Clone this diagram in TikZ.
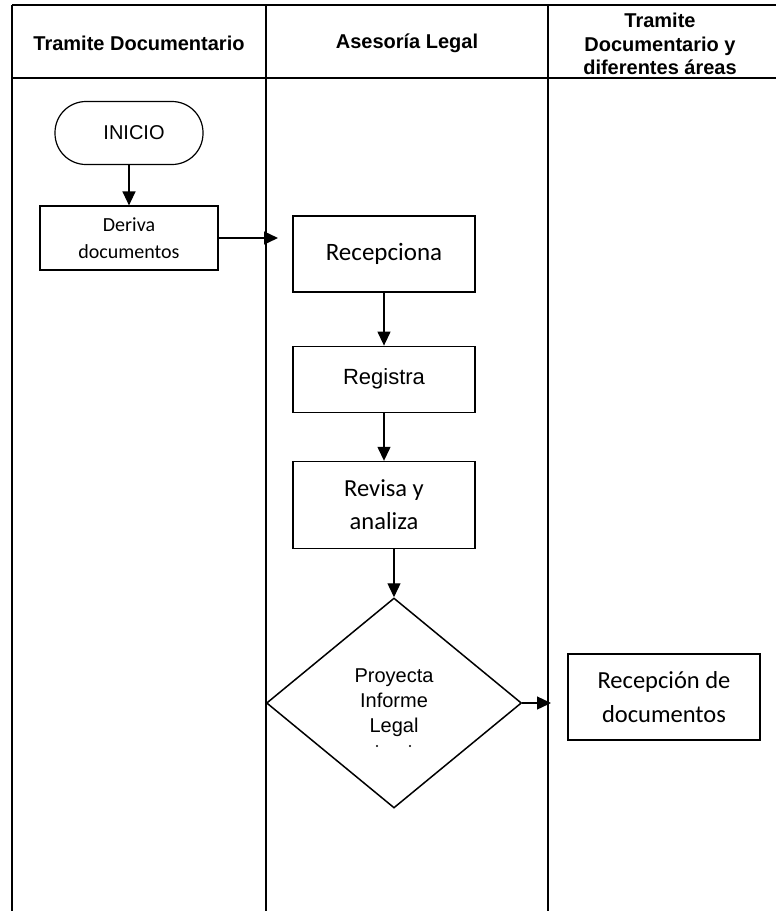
\documentclass[tikz,border=0pt]{standalone}
\usepackage{fontspec}
\setmainfont{Liberation Sans}
\newfontfamily\calibri{Carlito}
\usetikzlibrary{positioning,arrows.meta,shapes.geometric}

\begin{document}
\begin{tikzpicture}[
    x=1pt, y=-1pt,
    >={Triangle[length=14pt,width=13pt]},
    lane/.style={line width=1.3pt, draw=black},
    hdr/.style={align=center, font=\bfseries\fontsize{20}{23.5}\selectfont},
    stepbox/.style={
        draw=black,
        line width=1.2pt,
        align=center,
        inner sep=0pt
    },
    endbox/.style={stepbox, rounded corners=31pt,
        minimum width=148pt, minimum height=63pt,
        font=\fontsize{20}{24}\selectfont},
    decbox/.style={stepbox, diamond, line width=1.5pt,
        minimum width=255pt, minimum height=210pt,
        font=\fontsize{20}{25}\selectfont},
    flowarrow/.style={->, line width=1.3pt, draw=black}
]
    \useasboundingbox (0,0) rectangle (776,911);

    % swimlanes
    \draw[lane] (12,5) -- (776,5);
    \draw[lane] (12,78) -- (776,78);
    \foreach \lx in {12,266,548}
        \draw[lane] (\lx,5) -- (\lx,911);

    \node[hdr] (hdrtd) at (139,43) {Tramite Documentario};
    \node[hdr] (hdral) at (407,43) {Asesoría Legal};
    \node[hdr] (hdrda) at (660,44) {Tramite\\Documentario y\\diferentes áreas};

    % first lane
    \node[endbox] (inicio) at (129,133) {\hspace*{10pt}INICIO};
    \node[stepbox, minimum width=178pt, minimum height=64pt,
        font=\calibri\fontsize{20}{27}\selectfont] (deriva) at (129,238) {Deriva\\documentos};
    \coordinate (derivaend) at (278,238);

    % second lane
    \node[stepbox, minimum width=182pt, minimum height=76pt,
        font=\calibri\fontsize{25}{33}\selectfont] (recep) at (384,254) {Recepciona};
    \node[stepbox, minimum width=182pt, minimum height=66pt,
        font=\fontsize{22}{26}\selectfont, below=53pt of recep] (reg) {Registra};
    \node[stepbox, minimum width=182pt, minimum height=87pt,
        font=\calibri\fontsize{24.5}{33}\selectfont, below=48pt of reg] (rev) {Revisa y\\analiza};
    \node[decbox] (dia) at (394,703) {Proyecta\\Informe\\Legal};
    \fill ([shift={(-17,43)}]dia.center) circle (1.2);
    \fill ([shift={(16,43)}]dia.center) circle (1.2);
    \coordinate (diaend) at (551,703);

    % third lane
    \node[stepbox, minimum width=192pt, minimum height=86pt,
        font=\calibri\fontsize{24.5}{34}\selectfont] (recdoc) at (664,697) {Recepción de\\documentos};

    \draw[flowarrow] (inicio.south) -- (deriva.north);
    \draw[flowarrow] (deriva.east) -- (derivaend);
    \draw[flowarrow] (recep.south) -- (reg.north);
    \draw[flowarrow] (reg.south) -- (rev.north);
    \draw[flowarrow] (dia.north |- rev.south) -- (dia.north);
    \draw[flowarrow] (dia.east) -- (diaend);

\end{tikzpicture}
\end{document}
